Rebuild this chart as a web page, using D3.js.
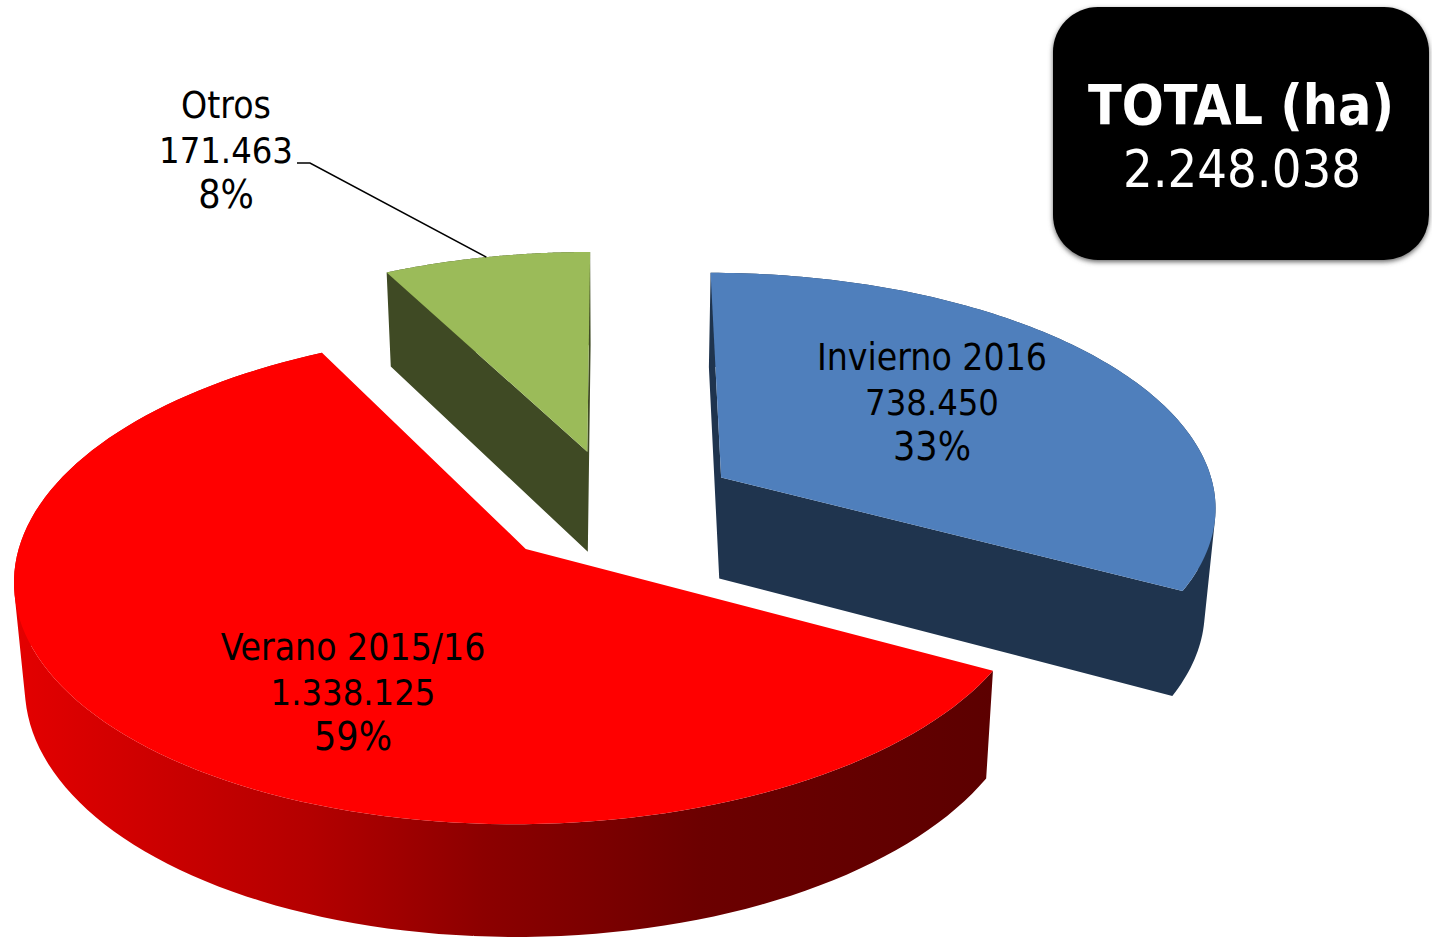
<!DOCTYPE html>
<html>
<head>
<meta charset="utf-8">
<script src="https://cdnjs.cloudflare.com/ajax/libs/d3/7.8.5/d3.min.js"></script>
<style>
html,body{margin:0;padding:0;background:#fff;overflow:hidden}
text{font-family:"DejaVu Sans Condensed","DejaVu Sans",sans-serif;font-stretch:condensed}
</style>
</head>
<body>
<svg id="c" width="1432" height="938"></svg>
<script>
const categories = ["Invierno 2016", "Verano 2015/16", "Otros"];
const values = [738450, 1338125, 171463];
const valueLabels = ["738.450", "1.338.125", "171.463"];
const percentLabels = ["33%", "59%", "8%"];
const topColors = ["#4f7fbc", "#ff0000", "#9bbb59"];
const wallColors = ["#1f344e", "#5e0000", "#3f4a24"];
const totalTitle = "TOTAL (ha)";
const totalValue = "2.248.038";

const svg = d3.select("#c");
const defs = svg.append("defs");

// projection of the pie plane (u across, v towards viewer) with perspective
const CX = 616, CY = 507, RX = 497, RY = 234, K = 0.113, EXPLODE = 0.25;
const sx = d3.scaleLinear().domain([-1, 1]).range([CX - RX, CX + RX]);
const sy = d3.scaleLinear().domain([-1, 1]).range([CY - RY, CY + RY]);
const project = (u, v, low) => {
  const p = 1 / (1 - K * v);
  let x = sx(u * p), y = sy(v * p);
  if (low) {
    x = CX + (x - CX) * 0.982;
    y = y + 102 + (p - 1) * 70;
  }
  return [x, y];
};

const pie = d3.pie().sort(null).startAngle(0).endAngle(2 * Math.PI);
const arcs = pie(values);
const line = d3.line();

function sliceGeom(a) {
  const mid = (a.startAngle + a.endAngle) / 2;
  const ou = EXPLODE * Math.sin(mid), ov = -EXPLODE * Math.cos(mid);
  const angles = d3.range(0, 121).map(i => a.startAngle + (a.endAngle - a.startAngle) * i / 120);
  const pts = low => angles.map(t => project(ou + Math.sin(t), ov - Math.cos(t), low));
  return {
    apexTop: project(ou, ov, false), apexLow: project(ou, ov, true),
    top: pts(false), low: pts(true), midTop: project(ou + Math.sin(mid), ov - Math.cos(mid), false)
  };
}

// all quads wound the same way so one path fills their union without seams
const quad = pts => line(d3.polygonArea(pts) < 0 ? pts.slice().reverse() : pts) + "Z";

// red rim gradient
const rimStops = [[0, "#e40000"], [0.14, "#cd0000"], [0.3, "#b40000"], [0.48, "#8c0000"], [0.7, "#6c0000"], [1, "#5c0000"]];
const grad = defs.append("linearGradient").attr("id", "rimRed").attr("gradientUnits", "userSpaceOnUse")
  .attr("x1", 13).attr("x2", 995).attr("y1", 0).attr("y2", 0);
rimStops.forEach(s => grad.append("stop").attr("offset", s[0]).attr("stop-color", s[1]));

const shadow = defs.append("filter").attr("id", "boxShadow").attr("x", "-10%").attr("y", "-10%").attr("width", "120%").attr("height", "120%");
shadow.append("feGaussianBlur").attr("stdDeviation", 2.5);

const g = svg.append("g");
[0, 2, 1].forEach(i => {
  const s = sliceGeom(arcs[i]);
  const gs = g.append("g");
  const last = s.top.length - 1;
  const side = d3.range(last).map(j => quad([s.top[j], s.top[j + 1], s.low[j + 1], s.low[j]]));
  if (i !== 1) {
    side.push(quad([s.apexTop, s.top[0], s.low[0], s.apexLow]));
    side.push(quad([s.apexTop, s.top[last], s.low[last], s.apexLow]));
  }
  gs.append("path").attr("d", side.join(""))
    .attr("fill", i === 1 ? "url(#rimRed)" : wallColors[i]);
  gs.append("path")
    .attr("d", line([s.apexTop].concat(s.top)) + "Z")
    .attr("fill", topColors[i]);
});

// leader for Otros
const otros = sliceGeom(arcs[2]);
g.append("path").attr("d", line([otros.midTop, [310, 163], [297, 163]]))
  .attr("fill", "none").attr("stroke", "#000").attr("stroke-width", 1.5);

// data labels
const labelAnchors = [[932, 370], [353, 660], [226, 118]];
const lineSizes = [37, 36, 39];
categories.forEach((c, i) => {
  const t = svg.append("text").attr("text-anchor", "middle").attr("fill", "#000");
  [c, valueLabels[i], percentLabels[i]].forEach((s, j) => {
    t.append("tspan").attr("x", labelAnchors[i][0]).attr("y", labelAnchors[i][1] + j * 45)
      .attr("font-size", lineSizes[j]).text(s);
  });
});

// total box
svg.append("rect").attr("x", 1053).attr("y", 9).attr("width", 376).attr("height", 253).attr("rx", 45)
  .attr("fill", "#666").attr("filter", "url(#boxShadow)");
svg.append("rect").attr("x", 1053).attr("y", 7).attr("width", 376).attr("height", 253).attr("rx", 45)
  .attr("fill", "#000");
svg.append("text").attr("x", 1241).attr("y", 124).attr("text-anchor", "middle")
  .attr("font-size", 55).attr("font-weight", "bold").attr("fill", "#fff").text(totalTitle);
svg.append("text").attr("x", 1242).attr("y", 187).attr("text-anchor", "middle")
  .attr("font-size", 52).attr("fill", "#fff").text(totalValue);
</script>
</body>
</html>
